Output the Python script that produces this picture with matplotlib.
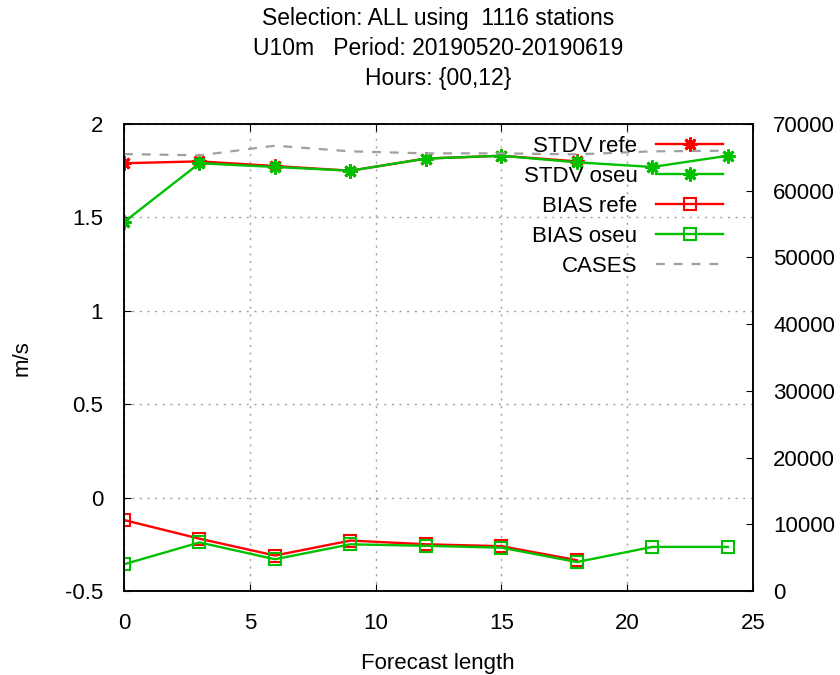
import matplotlib
matplotlib.use("Agg")
import matplotlib.pyplot as plt
import matplotlib.ticker as ticker

plt.rcParams['font.family'] = ['Liberation Sans', 'DejaVu Sans']
plt.rcParams['axes.unicode_minus'] = False

# forecast lengths (hours)
lead_refe = [0, 3, 6, 9, 12, 15, 18]
lead_oseu = [0, 3, 6, 9, 12, 15, 18, 21, 24]

stdv_refe = [1.79, 1.80, 1.775, 1.75, 1.815, 1.83, 1.80]
stdv_oseu = [1.475, 1.79, 1.77, 1.75, 1.815, 1.83, 1.795, 1.77, 1.83]
bias_refe = [-0.12, -0.22, -0.31, -0.23, -0.25, -0.26, -0.335]
bias_oseu = [-0.357, -0.24, -0.33, -0.25, -0.258, -0.268, -0.345, -0.264, -0.264]
cases = [65500, 65300, 66750, 65900, 65600, 65600, 65450, 65900, 66000]

title_lines = ["Selection: ALL using  1116 stations",
               "U10m   Period: 20190520-20190619",
               "Hours: {00,12}"]

RED = "#ff0000"
GREEN = "#00c000"
GRAY = "#a0a0a0"
star = (8, 2, 0)
FS = 16

fig = plt.figure(figsize=(8.4, 6.75), dpi=100)
ax = fig.add_axes([124/840, 1 - 591/675, (753 - 124)/840, (591 - 124)/675])
ax2 = ax.twinx()

h1, = ax.plot(lead_refe, stdv_refe, color=RED, lw=1.7, marker=star, ms=10, mew=2, label="STDV refe")
h2, = ax.plot(lead_oseu, stdv_oseu, color=GREEN, lw=1.7, marker=star, ms=10, mew=2, label="STDV oseu")
h3, = ax.plot(lead_refe, bias_refe, color=RED, lw=1.7, marker="s", ms=8, mew=1.5, mfc="none", label="BIAS refe")
h4, = ax.plot(lead_oseu, bias_oseu, color=GREEN, lw=1.7, marker="s", ms=8, mew=1.5, mfc="none", label="BIAS oseu")
h5, = ax2.plot(lead_oseu, cases, color=GRAY, lw=1.6, ls=(0, (4, 4)), label="CASES")

ax.set_xlim(0, 25)
ax.set_ylim(-0.5, 2)
ax.set_xticks(range(0, 26, 5))
ax.set_yticks([-0.5, 0, 0.5, 1, 1.5, 2])
ax.yaxis.set_major_formatter(ticker.FormatStrFormatter('%g'))
ax2.set_ylim(0, 70000)
ax2.set_yticks(range(0, 70001, 10000))

ax.grid(True, color=GRAY, ls=(0, (1.5, 4)), lw=1.0)
ax.tick_params(axis='x', direction='in', top=True, length=5, labelsize=FS, pad=16)
ax.tick_params(axis='y', direction='in', right=False, length=5, labelsize=FS, pad=15)
ax2.tick_params(axis='y', direction='in', length=5, labelsize=FS, pad=14.5)
for a in (ax, ax2):
    for sp in a.spines.values():
        sp.set_linewidth(1.1)

fig.text(438/840, 1 - 664/675, "Forecast length", ha='center', va='center', fontsize=FS)
fig.text(22/840, 1 - 358/675, "m/s", rotation=90, ha='center', va='center', fontsize=FS)

for i, line in enumerate(title_lines):
    fig.text(438/840, 1 - (19 + 29.5*i)/675, line, ha='center', va='center', fontsize=16.5)

ax2.legend([h1, h2, h3, h4, h5], [h.get_label() for h in (h1, h2, h3, h4, h5)],
           loc='upper right', frameon=False, markerfirst=False, fontsize=FS,
           handlelength=3.0, handletextpad=0.85, labelspacing=0.40,
           borderaxespad=0, borderpad=0, bbox_to_anchor=(1 - 30/629, 1 - 12/467))

fig.savefig("out.png", dpi=100)
